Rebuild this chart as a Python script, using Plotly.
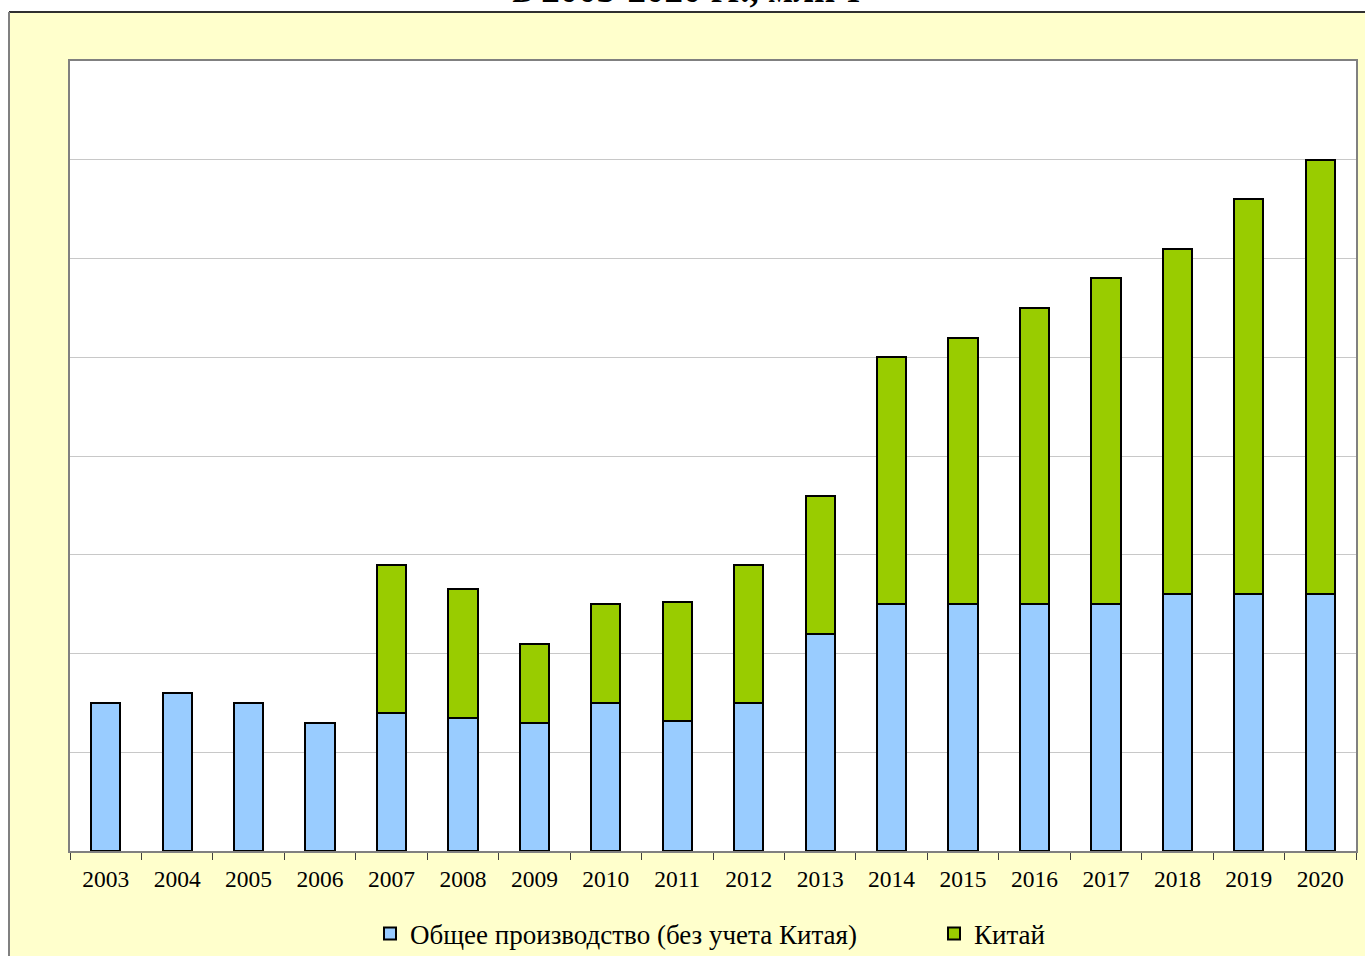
import plotly.graph_objects as go

years = [str(y) for y in range(2003, 2021)]
total_ex_china = [1.5, 1.6, 1.5, 1.3, 1.4, 1.35, 1.3, 1.5, 1.32, 1.5, 2.2, 2.5, 2.5, 2.5, 2.5, 2.6, 2.6, 2.6]
china = [0, 0, 0, 0, 1.5, 1.3, 0.8, 1.0, 1.2, 1.4, 1.4, 2.5, 2.7, 3.0, 3.3, 3.5, 4.0, 4.4]

name_total = "Общее производство (без учета Китая)"
name_china = "Китай"
title_text = "в 2003-2020 гг., млн т"

W, H = 1365, 956
L, R, T, B = 70, 9, 61, 105
pw, ph = W - L - R, H - T - B

def px(x):
    # reference pixel x -> paper
    return (x - L) / pw

def py(y):
    # reference pixel y -> paper
    return (H - B - y) / ph

fig = go.Figure()
fig.add_trace(go.Bar(x=years, y=total_ex_china, name=name_total, legend="legend",
                     marker=dict(color="#99CCFF", line=dict(color="#000000", width=2))))
fig.add_trace(go.Bar(x=years, y=china, name=name_china, legend="legend2",
                     marker=dict(color="#99CC00", line=dict(color="#000000", width=2))))

serif = "Liberation Serif"
legend_common = dict(orientation="v", yanchor="middle", bgcolor="rgba(0,0,0,0)",
                     font=dict(family=serif, size=27, color="#000000"),
                     itemclick=False, borderwidth=0)
fig.update_layout(
    width=W, height=H,
    barmode="stack", bargap=0.59,
    margin=dict(l=L, r=R, t=T, b=B, pad=0, autoexpand=False),
    paper_bgcolor="#FFFFCC", plot_bgcolor="#FFFFFF",
    font=dict(family=serif, color="#000000", size=23.5),
    showlegend=True,
    legend=dict(x=px(370), xanchor="left", y=py(934), **legend_common),
    legend2=dict(x=px(934), xanchor="left", y=py(934), **legend_common),
    xaxis=dict(type="category", showgrid=False, ticks="outside", tickson="boundaries",
               ticklen=7, tickcolor="#404040", tickwidth=1, ticklabelstandoff=6,
               showline=True, linecolor="#808080", linewidth=2, mirror=True,
               tickfont=dict(family=serif, size=23.5)),
    yaxis=dict(range=[0, 8], dtick=1, showgrid=True, gridcolor="#C8C8C8", gridwidth=1,
               showticklabels=False, ticks="", zeroline=False,
               showline=True, linecolor="#808080", linewidth=2, mirror=True),
    shapes=[
        dict(type="rect", xref="paper", yref="paper", x0=px(-20), x1=px(1400), y0=py(12), y1=py(-20),
             fillcolor="#FFFFFF", line=dict(width=0), layer="below"),
        dict(type="rect", xref="paper", yref="paper", x0=px(-20), x1=px(9), y0=py(1000), y1=py(-20),
             fillcolor="#FFFFFF", line=dict(width=0), layer="below"),
        dict(type="line", xref="paper", yref="paper", x0=px(9), x1=px(1400), y0=py(12), y1=py(12),
             line=dict(color="#303030", width=2)),
        dict(type="line", xref="paper", yref="paper", x0=px(9), x1=px(9), y0=py(12), y1=py(1000),
             line=dict(color="#808080", width=2)),
    ],
    annotations=[
        dict(text="<b>" + title_text + "</b>", xref="paper", yref="paper",
             x=px(687), y=py(12), xanchor="center", yanchor="bottom", showarrow=False,
             font=dict(family=serif, size=37, color="#000000")),
    ],
)

fig.write_html("out.html", config={"displayModeBar": False},
               post_script="document.body.style.margin='0';")
